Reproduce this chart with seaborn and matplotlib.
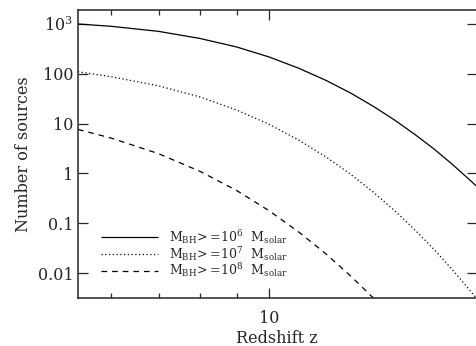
import numpy as np
import pandas as pd
import matplotlib
matplotlib.use("Agg")
import matplotlib.pyplot as plt
import matplotlib.ticker as mticker
import seaborn as sns

# Data (redshift z, number of sources)
z_grid = [5.4, 6, 7, 8, 9, 10, 11, 12, 13, 14, 15, 16, 17, 18, 19, 19.5]
n_1e6 = [1000, 900, 711, 512, 346, 217, 129, 74, 41, 22, 11.6, 6.0, 3.1, 1.56, 0.78, 0.556]
n_1e7 = [110, 87.7, 57.3, 34.3, 18.8, 9.64, 4.66, 2.15, 0.96, 0.415, 0.175, 0.0728,
         0.0299, 0.0121, 0.00485, 0.0031]
z_1e8 = [5.4, 6, 7, 8, 9, 10, 11, 12, 13, 14]
n_1e8 = [7.64, 5.15, 2.49, 1.10, 0.455, 0.177, 0.0664, 0.0243, 0.0087, 0.0031]

labels = [r'$\mathrm{M_{BH}\!>\!=\!10^{6}\ \ M_{solar}}$',
          r'$\mathrm{M_{BH}\!>\!=\!10^{7}\ \ M_{solar}}$',
          r'$\mathrm{M_{BH}\!>\!=\!10^{8}\ \ M_{solar}}$']

df = pd.concat([
    pd.DataFrame({"z": z_grid, "n": n_1e6, "series": labels[0]}),
    pd.DataFrame({"z": z_grid, "n": n_1e7, "series": labels[1]}),
    pd.DataFrame({"z": z_1e8, "n": n_1e8, "series": labels[2]}),
])

sns.set_style("ticks")
plt.rcParams['font.family'] = ['DejaVu Serif']
plt.rcParams['mathtext.fontset'] = 'dejavuserif'

fig = plt.figure(figsize=(4.77, 3.46), dpi=100)
ax = fig.add_axes([0.1635, 0.139, 0.8355, 0.832])

sns.lineplot(data=df, x="z", y="n", hue="series", style="series",
             palette=["black"] * 3,
             dashes=[(1, 0), (1, 2), (4.5, 4)],
             linewidth=0.9, estimator=None, sort=True, ax=ax)

ax.set_xscale("log")
ax.set_yscale("log")
ax.set_xlim(5.40, 19.5)
ax.set_ylim(10**-2.5, 10**3.28)

ax.xaxis.set_major_locator(mticker.FixedLocator([10]))
ax.xaxis.set_major_formatter(mticker.FixedFormatter(["10"]))
ax.xaxis.set_minor_locator(mticker.FixedLocator([6, 7, 8, 9, 20]))
ax.xaxis.set_minor_formatter(mticker.NullFormatter())

yt = [0.01, 0.1, 1, 10, 100, 1000]
ax.yaxis.set_major_locator(mticker.FixedLocator(yt))
ax.yaxis.set_major_formatter(mticker.FixedFormatter(["0.01", "0.1", "1", "10", "100", r"$10^3$"]))
ax.yaxis.set_minor_locator(mticker.NullLocator())

ax.tick_params(which="both", direction="in", top=True, right=True, labelsize=11.5, width=0.9)
ax.tick_params(which="major", length=7)
ax.tick_params(which="minor", length=3.5)
ax.tick_params(axis="x", which="both", pad=9)
for s in ax.spines.values():
    s.set_linewidth(1.1)

ax.set_xlabel("Redshift z", fontsize=11.5, labelpad=2)
ax.set_ylabel("Number of sources", fontsize=11.5, labelpad=4)

leg = ax.legend(loc="lower left", bbox_to_anchor=(0.045, 0.047), frameon=False,
                fontsize=9, handlelength=4.6, handletextpad=0.85,
                labelspacing=-0.1, borderaxespad=0)
for h in leg.get_lines():
    h.set_linewidth(0.9)

fig.savefig("out.png", dpi=100)
